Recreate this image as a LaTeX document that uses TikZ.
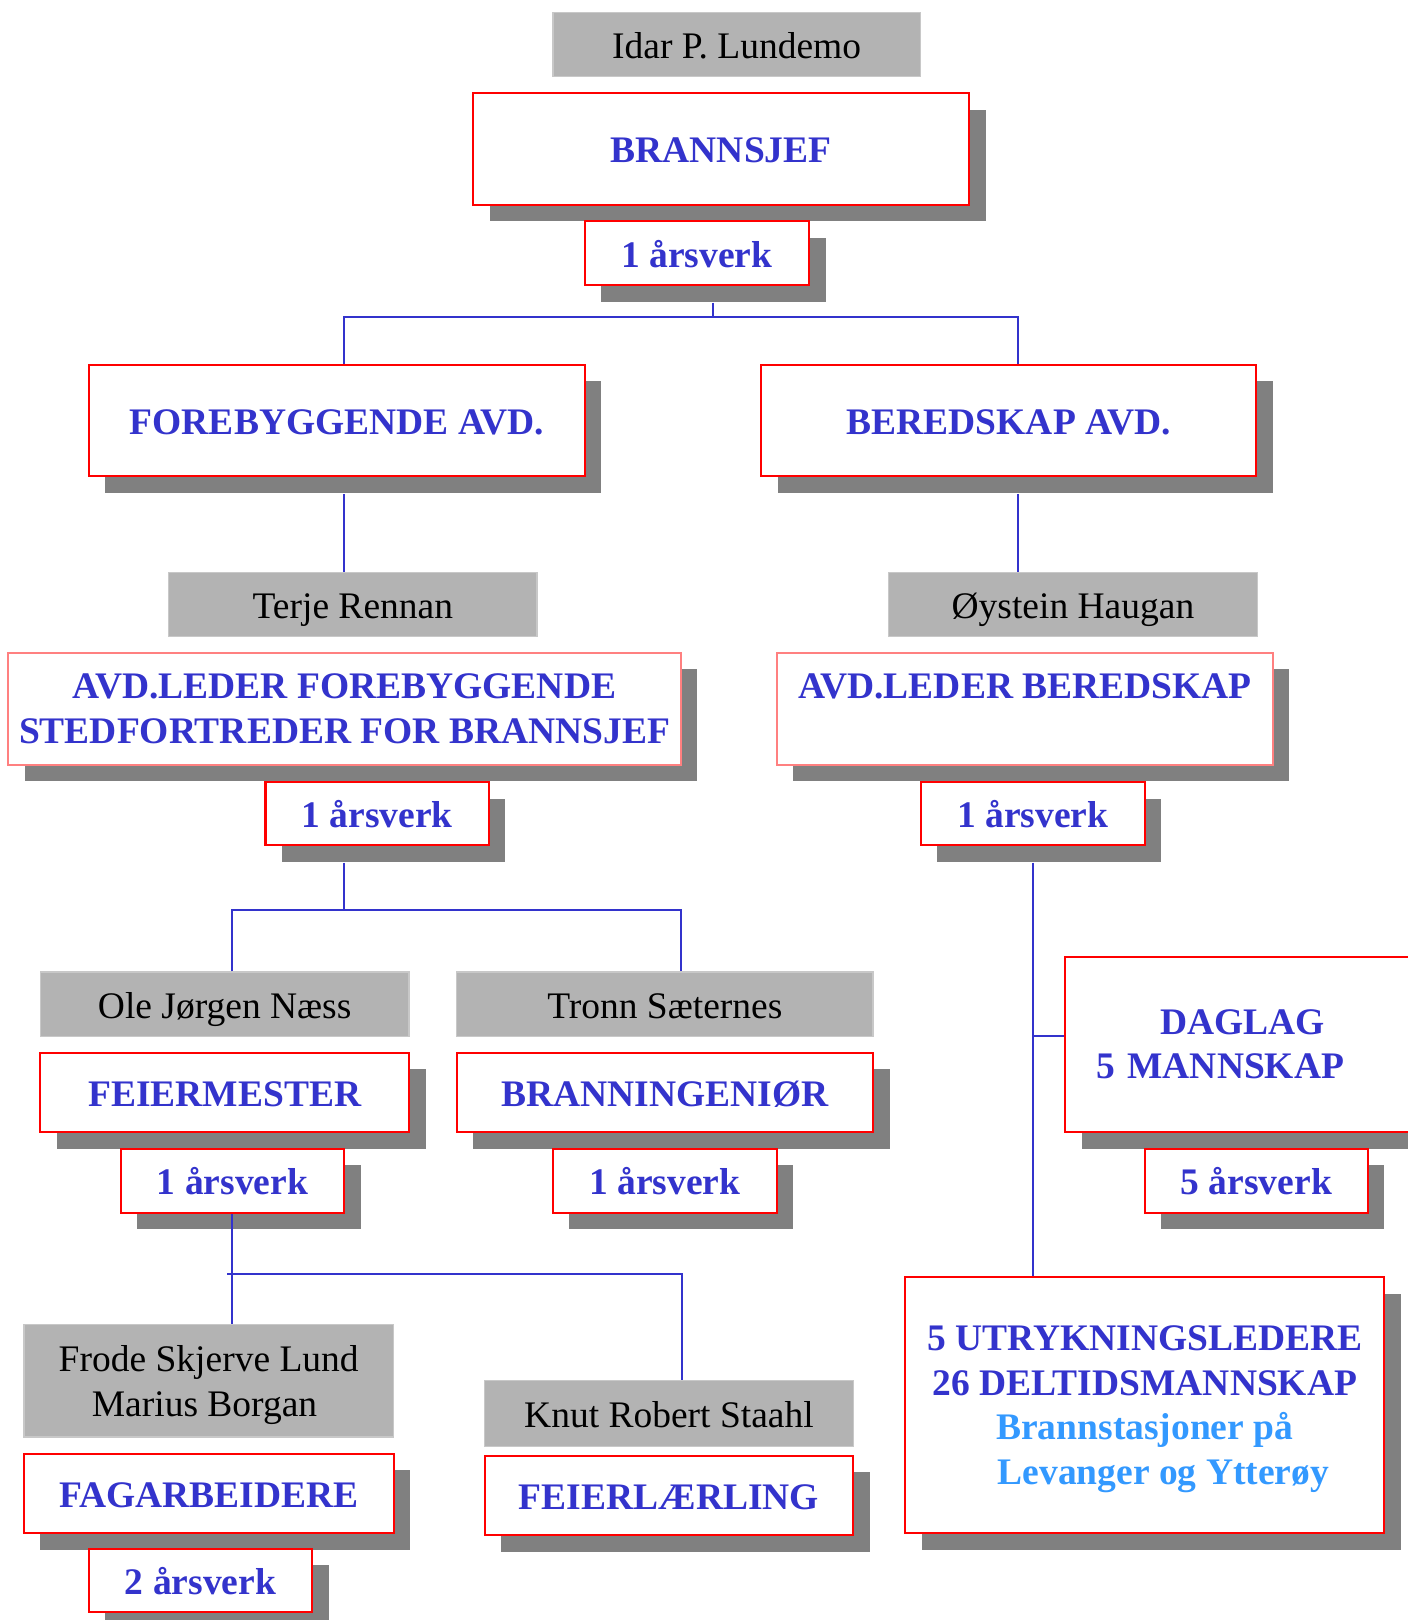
\documentclass[tikz,border=0pt]{standalone}
\usepackage{fontspec}
\setmainfont{Liberation Serif}
\usetikzlibrary{shadows,calc}
\definecolor{txtblue}{RGB}{51,51,204}
\definecolor{lightblue}{RGB}{51,153,255}
\definecolor{boxred}{RGB}{255,0,0}
\definecolor{pinkred}{RGB}{255,128,128}
\definecolor{namegray}{RGB}{179,179,179}
\definecolor{namegrayline}{RGB}{200,200,200}
\definecolor{shadowgray}{RGB}{128,128,128}
\begin{document}
\begin{tikzpicture}[x=1pt,y=-1pt,
  namebox/.style={font=\fontsize{36.3}{43}\selectfont, fill=namegray, draw=namegrayline, line width=1.5pt, text=black, inner sep=0pt},
  redbox/.style={font=\fontsize{36.3}{43}\selectfont\bfseries, text=txtblue, draw=boxred, line width=2pt, fill=white, inner sep=0pt,
    drop shadow={shadow xshift=16pt, shadow yshift=-16pt, fill=shadowgray, opacity=1}},
  one/.style={text height=27.2pt, text depth=0pt},
  conn/.style={draw=txtblue, line width=2pt},
]
\useasboundingbox (0,0) rectangle (1362,1568);

% top
\node[namebox, one, minimum width=356, minimum height=62] (idar) at (713,43) {Idar P. Lundemo};
\node[redbox, one, minimum width=480, minimum height=108] (bj) at (698,144) {BRANNSJEF};
\node[redbox, one, minimum width=217, minimum height=62] (a1) at (674.5,245) {1 årsverk};

% departments
\node[redbox, one, minimum width=480, minimum height=108] (fore) at (326,407) {FOREBYGGENDE AVD.};
\node[redbox, one, minimum width=479, minimum height=108] (bered) at (976.5,407) {BEREDSKAP AVD.};

% left column
\node[namebox, one, minimum width=357, minimum height=62] (terje) at (341.5,585) {Terje Rennan};
\node[redbox, draw=pinkred, align=center, minimum width=651, minimum height=108] (alf) at (333.5,686) {AVD.LEDER FOREBYGGENDE\\STEDFORTREDER FOR BRANNSJEF};
\node[redbox, one, minimum width=216, minimum height=61] (a2) at (365,787.5) {1 årsverk};

\node[namebox, one, minimum width=357, minimum height=62] (ole) at (217.5,972) {Ole Jørgen Næss};
\node[redbox, one, minimum width=357, minimum height=77] (feier) at (217.5,1057.5) {FEIERMESTER};
\node[redbox, one, minimum width=216, minimum height=62] (a3) at (225,1143) {1 årsverk};

\node[namebox, one, minimum width=403, minimum height=62] (tronn) at (643.5,972) {Tronn Sæternes};
\node[redbox, one, minimum width=403, minimum height=77] (brann) at (643.5,1057.5) {BRANNINGENIØR};
\node[redbox, one, minimum width=217, minimum height=62] (a4) at (643.5,1143) {1 årsverk};

\node[namebox, align=center, minimum width=358, minimum height=109] (frode) at (202,1336.5) {Frode Skjerve Lund\\\raisebox{0pt}[\height][0pt]{Marius Borgan}\hspace*{8pt}};
\node[redbox, one, minimum width=358, minimum height=77] (fag) at (202,1445.5) {FAGARBEIDERE};
\node[redbox, one, minimum width=216, minimum height=61] (a5) at (194,1529.5) {2 årsverk};

\node[namebox, one, minimum width=357, minimum height=64] (knut) at (647.5,1368) {Knut Robert Staahl};
\node[redbox, one, minimum width=357, minimum height=77] (feierl) at (647.5,1447.5) {FEIERLÆRLING};

% right column
\node[namebox, one, minimum width=357, minimum height=62] (oystein) at (1038.5,585) {Øystein Haugan};
\node[redbox, draw=pinkred, align=center, minimum width=480, minimum height=108] (alb) at (992,686) {AVD.LEDER BEREDSKAP\\\mbox{}};
\node[redbox, one, minimum width=217, minimum height=61] (a6) at (999.5,787.5) {1 årsverk};

\node[redbox, align=left, text width=420pt, inner xsep=30pt, minimum height=170] (dag) at (1271,1011) {\hspace*{62pt}DAGLAG\\5 MANNSKAP};
\node[redbox, one, minimum width=216, minimum height=62] (a7) at (1216,1143) {5 årsverk};

\node[redbox, align=center, minimum width=464, minimum height=248] (utr) at (1108,1360) {5 UTRYKNINGSLEDERE\\26 DELTIDSMANNSKAP\\\textcolor{lightblue}{Brannstasjoner på}\\\hspace*{36pt}\textcolor{lightblue}{\raisebox{0pt}[\height][0pt]{Levanger og Ytterøy}}};

% connectors
\coordinate (spL) at (333,0);
\coordinate (spR) at (985,0);
\coordinate (spA) at (225,0);
\coordinate (spB) at (659,0);
\coordinate (spC) at (660,0);

\draw[conn] ($(a1.south)+(16,16)$) -- ++(0,14) coordinate (j1);
\draw[conn] (fore.north -| spL) |- (j1) -| (bered.north -| spR);

\draw[conn] ($(fore.south -| spL)+(0,16)$) -- (terje.north -| spL);
\draw[conn] ($(bered.south -| spR)+(0,16)$) -- (oystein.north -| spR);

\draw[conn] ($(a2.south -| spL)+(0,16)$) -- ++(0,46) coordinate (j2);
\draw[conn] (ole.north -| spA) |- (j2) -| (tronn.north -| spB);

\draw[conn] (a3.south) -- (frode.north -| a3.south);
\draw[conn] ($(frode.north -| a3.south)+(-5,-48)$) -| (knut.north -| spC);

\draw[conn] ($(a6.south)+(0,16)$) -- (utr.north -| a6.south);
\coordinate (dj) at ($(dag.west)+(0,-8)$);
\draw[conn] (dj) -- (dj -| a6.south);
\end{tikzpicture}
\end{document}
